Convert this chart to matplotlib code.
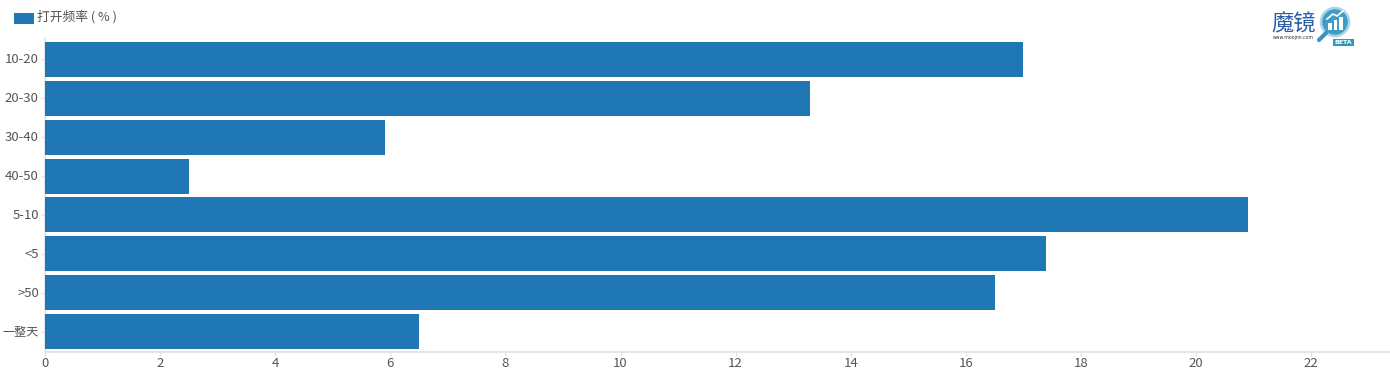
import matplotlib
matplotlib.use("Agg")
import matplotlib.pyplot as plt
from matplotlib.patches import Circle, Rectangle
from matplotlib.lines import Line2D
from matplotlib.transforms import ScaledTranslation

plt.rcParams['font.family'] = ['Noto Sans CJK SC', 'DejaVu Sans']

categories = ["10-20", "20-30", "30-40", "40-50", "5-10", "<5", ">50", "一整天"]
values = [17.0, 13.3, 5.9, 2.5, 20.9, 17.4, 16.5, 6.5]
x_ticks = [0, 2, 4, 6, 8, 10, 12, 14, 16, 18, 20, 22]
legend_label = "打开频率 ( % )"

W, H = 1390, 382
BLUE = "#1f77b4"
TEXT = "#555555"
AXIS = "#e2e2e2"


def fx(px):
    return px / W


def fy(py):
    return 1 - py / H


fig = plt.figure(figsize=(W / 100, H / 100), dpi=100, facecolor="white")
ax = fig.add_axes([fx(45), fy(352), (1390 - 45) / W, (352 - 38) / H])

ax.barh(categories, values, height=0.9, color=BLUE, zorder=3)
ax.set_ylim(7.527, -0.553)
ax.set_xlim(0, 1345 / 57.55)
ax.set_xticks(x_ticks)
ax.tick_params(axis="x", length=3, width=1, color=AXIS, labelsize=9.5, labelcolor=TEXT, pad=0.5)
ax.tick_params(axis="y", length=3, width=1, color=AXIS, labelsize=9.5, labelcolor=TEXT, pad=1.5)
for name in ["top", "right"]:
    ax.spines[name].set_visible(False)
for name in ["left", "bottom"]:
    ax.spines[name].set_color(AXIS)
    ax.spines[name].set_linewidth(1.2)

# tick labels sit 1px higher in the original
up = ScaledTranslation(0, 1 / 100, fig.dpi_scale_trans)
for lab in ax.get_yticklabels():
    lab.set_transform(lab.get_transform() + up)
ax.get_yticklabels()[-1].set_fontsize(8.7)

# legend
fig.patches.append(Rectangle((fx(14), fy(24)), 20 / W, 11 / H, transform=fig.transFigure,
                             facecolor=BLUE, edgecolor="none"))
fig.text(fx(37), fy(17), legend_label, fontsize=9.2, color=TEXT, va="center", ha="left")

# logo, top right
fig.text(fx(1294), fy(24), "魔镜", fontsize=16, color="#2a5ca8", va="center", ha="center")
fig.text(fx(1293), fy(38), "www.moojnn.com", fontsize=3.3, color="#333333", va="center", ha="center",
         family="DejaVu Sans")
fig.add_artist(Line2D([fx(1319), fx(1326)], [fy(40), fy(33)], color="#3a94bc", lw=3,
                      solid_capstyle="round"))
lens_ax = fig.add_axes([fx(1319), fy(38), 32 / W, 32 / H])
lens_ax.set_xlim(0, 32)
lens_ax.set_ylim(32, 0)
lens_ax.axis("off")
lens_ax.add_patch(Circle((16, 16), 14, facecolor="#3f9cc4", edgecolor="#a9d5e6", lw=1.8))
for bx, bh in [(9, 7), (14.5, 10), (20, 13)]:
    lens_ax.add_patch(Rectangle((bx, 24 - bh), 3.6, bh, facecolor="white", edgecolor="none"))
lens_ax.plot([8, 14, 18, 24], [13, 8, 10, 5], color="white", lw=1.2)
fig.patches.append(Rectangle((fx(1333), fy(46)), 21 / W, 7 / H, transform=fig.transFigure,
                             facecolor="#2a9cc4", edgecolor="none"))
fig.text(fx(1343.5), fy(42.5), "BETA", fontsize=4.5, color="white", va="center", ha="center",
         family="DejaVu Sans", weight="bold")

fig.savefig("out.png", dpi=100)
